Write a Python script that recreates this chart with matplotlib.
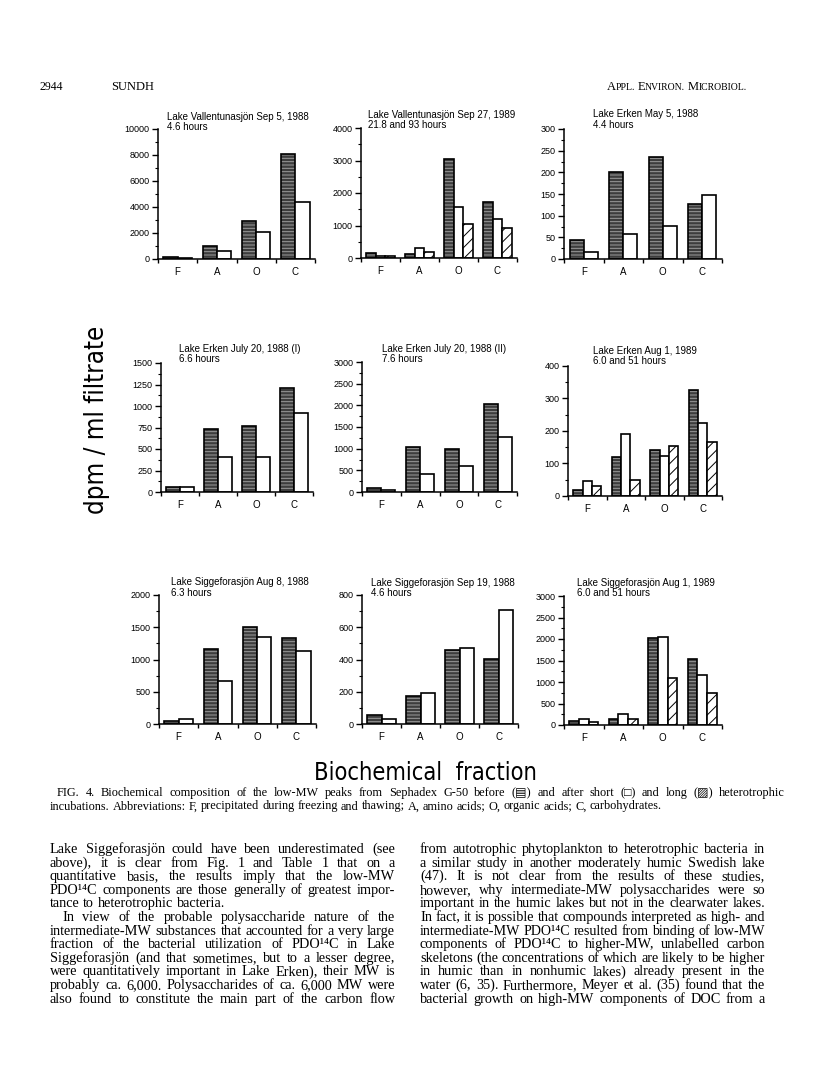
import matplotlib
matplotlib.use("Agg")
import matplotlib.pyplot as plt
from matplotlib import font_manager
import numpy as np

## DATA ##
fractions = ["F", "A", "O", "C"]

# dpm / ml filtrate, before / after short / after long incubation
vall88_before = [150, 1000, 2900, 8100]
vall88_short = [80, 600, 2050, 4350]

vall89_before = [150, 120, 3050, 1720]
vall89_short = [70, 300, 1580, 1200]
vall89_long = [70, 190, 1050, 930]

erk_may88_before = [43, 200, 235, 128]
erk_may88_short = [16, 58, 77, 147]

erk_jul88a_before = [55, 735, 765, 1215]
erk_jul88a_short = [55, 410, 410, 915]

erk_jul88b_before = [90, 1030, 990, 2040]
erk_jul88b_short = [45, 420, 590, 1280]

erk_aug89_before = [17, 120, 140, 325]
erk_aug89_short = [47, 190, 122, 225]
erk_aug89_long = [30, 48, 155, 165]

sigg_aug88_before = [50, 1170, 1510, 1340]
sigg_aug88_short = [75, 670, 1350, 1130]

sigg_sep88_before = [57, 175, 462, 405]
sigg_sep88_short = [28, 190, 470, 705]

sigg_aug89_before = [100, 140, 2030, 1530]
sigg_aug89_short = [150, 250, 2050, 1160]
sigg_aug89_long = [70, 145, 1100, 740]

titles = [
    ("Lake Vallentunasjön Sep 5, 1988", "4.6 hours"),
    ("Lake Vallentunasjön Sep 27, 1989", "21.8 and 93 hours"),
    ("Lake Erken May 5, 1988", "4.4 hours"),
    ("Lake Erken July 20, 1988 (I)", "6.6 hours"),
    ("Lake Erken July 20, 1988 (II)", "7.6 hours"),
    ("Lake Erken Aug 1, 1989", "6.0 and 51 hours"),
    ("Lake Siggeforasjön Aug 8, 1988", "6.3 hours"),
    ("Lake Siggeforasjön Sep 19, 1988", "4.6 hours"),
    ("Lake Siggeforasjön Aug 1, 1989", "6.0 and 51 hours"),
]
y_max = [10000, 4000, 300, 1500, 3000, 400, 2000, 800, 3000]
y_step = [2000, 1000, 50, 250, 500, 100, 500, 200, 500]

series = [
    (vall88_before, vall88_short, None),
    (vall89_before, vall89_short, vall89_long),
    (erk_may88_before, erk_may88_short, None),
    (erk_jul88a_before, erk_jul88a_short, None),
    (erk_jul88b_before, erk_jul88b_short, None),
    (erk_aug89_before, erk_aug89_short, erk_aug89_long),
    (sigg_aug88_before, sigg_aug88_short, None),
    (sigg_sep88_before, sigg_sep88_short, None),
    (sigg_aug89_before, sigg_aug89_short, sigg_aug89_long),
]

caption_lines = [
    "FIG. 4. Biochemical composition of the low-MW peaks from Sephadex G-50 before (\u25A4) and after short (\u25A1) and long (\u25A8) heterotrophic",
    "incubations. Abbreviations: F, precipitated during freezing and thawing; A, amino acids; O, organic acids; C, carbohydrates.",
]

left_col = [
    "Lake Siggeforasjön could have been underestimated (see",
    "above), it is clear from Fig. 1 and Table 1 that on a",
    "quantitative basis, the results imply that the low-MW",
    "PDO¹⁴C components are those generally of greatest impor-",
    "tance to heterotrophic bacteria.",
    "In view of the probable polysaccharide nature of the",
    "intermediate-MW substances that accounted for a very large",
    "fraction of the bacterial utilization of PDO¹⁴C in Lake",
    "Siggeforasjön (and that sometimes, but to a lesser degree,",
    "were quantitatively important in Lake Erken), their MW is",
    "probably ca. 6,000. Polysaccharides of ca. 6,000 MW were",
    "also found to constitute the main part of the carbon flow",
]
right_col = [
    "from autotrophic phytoplankton to heterotrophic bacteria in",
    "a similar study in another moderately humic Swedish lake",
    "(47). It is not clear from the results of these studies,",
    "however, why intermediate-MW polysaccharides were so",
    "important in the humic lakes but not in the clearwater lakes.",
    "In fact, it is possible that compounds interpreted as high- and",
    "intermediate-MW PDO¹⁴C resulted from binding of low-MW",
    "components of PDO¹⁴C to higher-MW, unlabelled carbon",
    "skeletons (the concentrations of which are likely to be higher",
    "in humic than in nonhumic lakes) already present in the",
    "water (6, 35). Furthermore, Meyer et al. (35) found that the",
    "bacterial growth on high-MW components of DOC from a",
]

## LAYOUT ##
W, H = 816, 1076
# left, top, right, bottom of each panel, in page pixels
boxes = [
    (158, 129, 315, 259), (361, 128, 517, 258), (564, 129, 722, 259),
    (161, 363, 313, 492), (362, 362, 517, 492), (568, 366, 722, 496),
    (159, 595, 316, 724), (362, 595, 518, 724), (564, 596, 722, 725),
]
title_xy = [(167, 117), (368, 115), (593, 114), (179, 349), (382, 349),
            (593, 351), (171, 582), (371, 583), (577, 583)]

SANS = ["Liberation Sans", "DejaVu Sans"]
SERIF = ["Liberation Serif", "DejaVu Serif", "DejaVu Sans"]

# big axis labels: condensed sans if there is one
big_y = dict(family="DejaVu Sans", fontsize=16)
big_x = dict(family="DejaVu Sans", fontsize=15)
try:
    p = font_manager.findfont(font_manager.FontProperties(family="DejaVu Sans", stretch="condensed"))
    if "ondensed" in p:
        big_y = dict(family="DejaVu Sans", stretch="condensed", fontsize=18.5)
        big_x = dict(family="DejaVu Sans", stretch="condensed", fontsize=17)
except Exception:
    pass

plt.rcParams["hatch.linewidth"] = 0.7

fig = plt.figure(figsize=(W / 100, H / 100), dpi=100)
fig.patch.set_facecolor("white")


def fx(x):
    return x / W


def fy(y):
    return 1 - y / H


## PANELS ##
x = np.arange(4) + 0.5
for i, (l, t, r, b) in enumerate(boxes):
    ax = fig.add_axes([fx(l), fy(b), (r - l) / W, (b - t) / H])
    before, short, long_ = series[i]
    if long_ is None:
        w = 0.36
        pos = [x - w / 2, x + w / 2]
    else:
        w = 0.245
        pos = [x - w, x, x + w]
    # dark bars with light horizontal streaks
    ax.bar(pos[0], before, w, color="#3d3d3d", edgecolor="#9c9c9c", hatch="-----", linewidth=0)
    ax.bar(pos[0], before, w, fill=False, edgecolor="black", linewidth=1.2)
    ax.bar(pos[1], short, w, color="white", edgecolor="black", linewidth=1.2)
    if long_ is not None:
        ax.bar(pos[2], long_, w, color="white", edgecolor="black", hatch="///", linewidth=1.2)

    ax.set_xlim(0, 4)
    ax.set_ylim(0, y_max[i])
    ax.spines["top"].set_visible(False)
    ax.spines["right"].set_visible(False)
    ax.spines["left"].set_linewidth(1.1)
    ax.spines["bottom"].set_linewidth(1.1)
    ax.set_xticks([0, 1, 2, 3, 4])
    ax.set_xticklabels([])
    ax.set_xticks(x, fractions, minor=True)
    ax.tick_params(axis="x", which="major", direction="out", length=3, width=1)
    ax.tick_params(axis="x", which="minor", length=0, pad=6, labelsize=7)
    ax.set_yticks(np.arange(0, y_max[i] + 1, y_step[i]))
    ax.set_yticks(np.arange(0, y_max[i], y_step[i] / 2), minor=True)
    ax.tick_params(axis="y", which="major", direction="out", length=4, width=1, labelsize=6.5, pad=2)
    ax.tick_params(axis="y", which="minor", direction="out", length=2, width=0.8)
    for lab in ax.get_xticklabels(minor=True) + ax.get_yticklabels():
        lab.set_family(SANS)
    ax.patch.set_alpha(0)

    tx, ty = title_xy[i]
    fig.text(fx(tx), fy(ty), titles[i][0], fontsize=7, family=SANS, va="center", ha="left")
    fig.text(fx(tx), fy(ty + 10.5), titles[i][1], fontsize=7, family=SANS, va="center", ha="left")

## BIG AXIS LABELS ##
fig.text(fx(97), fy(420), "dpm / ml filtrate", rotation=90, va="center", ha="center", **big_y)
fig.text(fx(425), fy(773), "Biochemical  fraction", va="center", ha="center", **big_x)

## PAGE TEXT ##
rend = fig.canvas.get_renderer()


def place_line(line, x0, x1, base, size, family, justify=True, indent=0, min_gap=3.0):
    words = line.split()
    arts = [fig.text(0, fy(base), wd, fontsize=size, family=family, va="baseline", ha="left")
            for wd in words]
    xx = x0 + indent
    while True:
        widths = [a.get_window_extent(renderer=rend).width for a in arts]
        if justify and len(words) > 1:
            gap = (x1 - xx - sum(widths)) / (len(words) - 1)
        else:
            gap = size * 100 / 72 * 0.25
        if gap >= min_gap or size < 7:
            break
        size -= 0.2
        for a in arts:
            a.set_fontsize(size)
    for a, wd in zip(arts, widths):
        a.set_x(fx(xx))
        xx += wd + gap


def small_caps(words, x_right, base, big, small):
    runs = []
    for j, wd in enumerate(words):
        if j:
            runs.append((" ", small))
        runs.append((wd[0], big))
        runs.append((wd[1:].upper(), small))
    arts = [fig.text(0, fy(base), s, fontsize=sz, family=SERIF, va="baseline", ha="left")
            for s, sz in runs]
    widths = [a.get_window_extent(renderer=rend).width for a in arts]
    xx = x_right - sum(widths)
    for a, wd in zip(arts, widths):
        a.set_x(fx(xx))
        xx += wd


# running head
fig.text(fx(40), fy(90), "2944", fontsize=8.5, family=SERIF, va="baseline", ha="left")
fig.text(fx(111), fy(90), "SUNDH", fontsize=9, family=SERIF, va="baseline", ha="left")
small_caps(["Appl.", "Environ.", "Microbiol."], 747, 90, 9, 7)

# caption
place_line(caption_lines[0], 50, 785, 796, 8.8, SERIF, justify=True, indent=7)
place_line(caption_lines[1], 50, 785, 809.5, 8.8, SERIF, justify=False)

# two body columns
line_h = 13.6
for k, ln in enumerate(left_col):
    place_line(ln, 50, 395, 853 + k * line_h, 10.3, SERIF,
               justify=(k != 4), indent=(12 if k == 5 else 0))
for k, ln in enumerate(right_col):
    place_line(ln, 420, 765, 853 + k * line_h, 10.3, SERIF, justify=True)

fig.savefig("out.png", dpi=100)
